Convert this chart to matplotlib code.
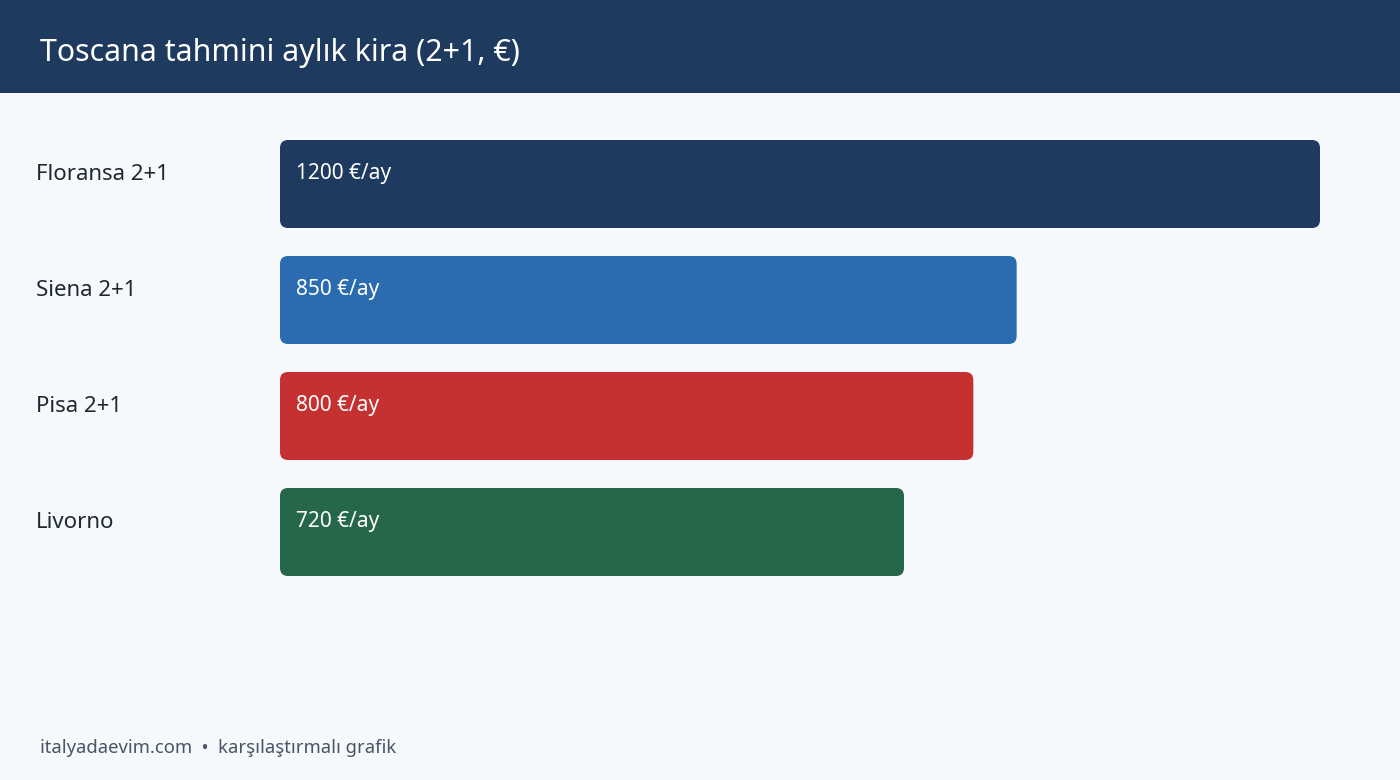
import matplotlib
matplotlib.use("Agg")
import matplotlib.pyplot as plt
import matplotlib.patches as mpatches
import matplotlib.transforms as mtransforms

# ── Palette ──────────────────────────────────────────────────────────────────
BG       = "#f5f9fc"
HEADER   = "#1f3a5f"
TEXT     = "#1f2733"
FOOTER   = "#4a5568"

# ── Data ─────────────────────────────────────────────────────────────────────
CITIES = ["Floransa 2+1", "Siena 2+1", "Pisa 2+1", "Livorno"]
RENTS  = [1200, 850, 800, 720]
COLORS = ["#1f3a5f", "#2b6cb0", "#c53030", "#276749"]
VALUE_LABELS = [f"{v} €/ay" for v in RENTS]

TITLE  = "Toscana tahmini aylık kira (2+1, €)"
FOOTER_TEXT = "italyadaevim.com  •  karşılaştırmalı grafik"

plt.rcParams.update({
    "font.family": ["Noto Sans", "DejaVu Sans"],
})

W, H = 1400, 780
fig = plt.figure(figsize=(W / 100, H / 100), dpi=100)
fig.set_facecolor(BG)

# header band
fig.patches.append(mpatches.Rectangle((0, (H - 93) / H), 1, 93 / H,
                                      transform=fig.transFigure,
                                      facecolor=HEADER, edgecolor="none",
                                      zorder=0))
fig.text(40 / W, 1 - 53 / H, TITLE, color="white", fontsize=21.8,
         ha="left", va="center")

# ── Bars axis (pixel-aligned) ────────────────────────────────────────────────
ax_left, ax_right = 280, 1320
ax_top, ax_bot = 126, 590
ax = fig.add_axes([ax_left / W, 1 - ax_bot / H,
                   (ax_right - ax_left) / W, (ax_bot - ax_top) / H])
ax.set_facecolor("none")
ax.set_xlim(0, 1200)
ax.set_ylim(len(CITIES) - 0.5, -0.5)
ax.axis("off")

px_x = (ax_right - ax_left) / 1200.0     # pixels per data unit (x)
px_y = (ax_bot - ax_top) / len(CITIES)   # pixels per data unit (y)
bar_h = 88 / px_y
radius = 8 / px_x

for i, (val, col) in enumerate(zip(RENTS, COLORS)):
    y0 = i - bar_h / 2
    patch = mpatches.FancyBboxPatch(
        (0, y0), val, bar_h,
        boxstyle=f"round,pad=0,rounding_size={radius}",
        mutation_aspect=px_x / px_y,
        facecolor=col, edgecolor="none", zorder=2)
    ax.add_patch(patch)
    ax.annotate(VALUE_LABELS[i], xy=(0, y0), xytext=(16, -33),
                textcoords="offset pixels", color="white", fontsize=15,
                ha="left", va="center", zorder=3)

# category labels at the left edge of the figure
blend = mtransforms.blended_transform_factory(fig.transFigure, ax.transData)
for i, name in enumerate(CITIES):
    ax.annotate(name, xy=(36 / W, i - bar_h / 2), xycoords=blend,
                xytext=(0, -34), textcoords="offset pixels",
                color=TEXT, fontsize=16, ha="left", va="center",
                annotation_clip=False)

fig.text(40 / W, 1 - 748 / H, FOOTER_TEXT, color=FOOTER, fontsize=13.3,
         ha="left", va="center")

fig.savefig("out.png", dpi=100, facecolor=BG)
plt.close(fig)
